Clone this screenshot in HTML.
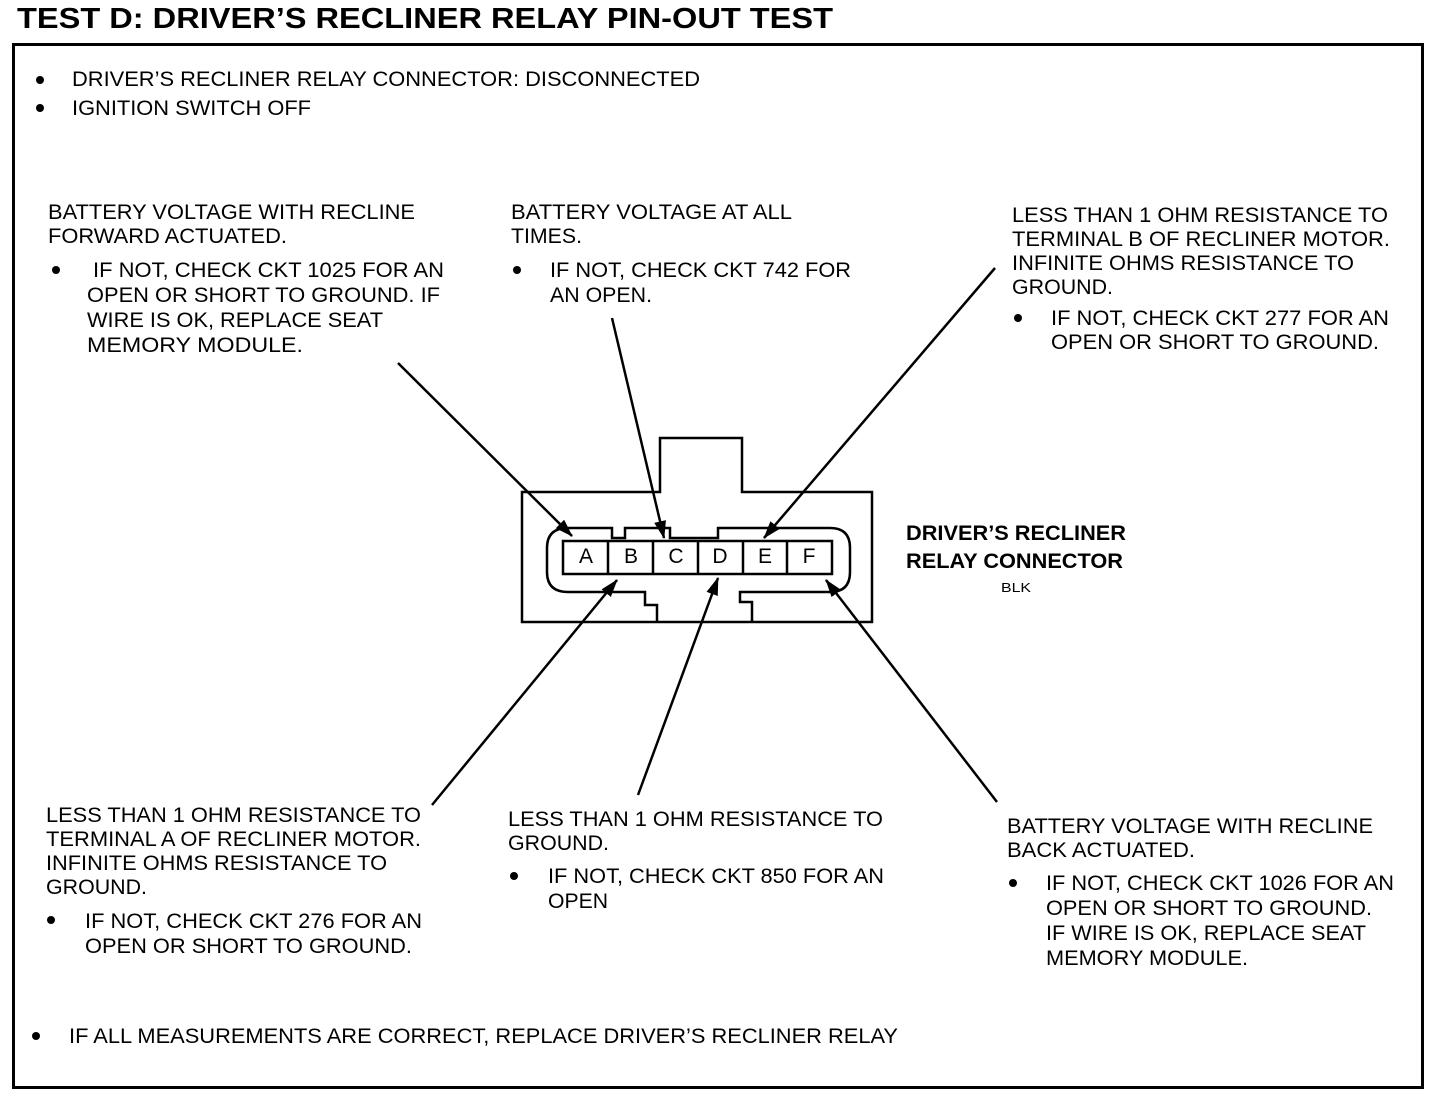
<!DOCTYPE html>
<html><head><meta charset="utf-8"><style>
html,body{margin:0;padding:0;background:#fff;}
svg{display:block}
text{font-family:"Liberation Sans",Arial,sans-serif;font-size:21px;fill:#000}
.b{font-weight:bold}
</style></head><body>
<svg width="1440" height="1096" viewBox="0 0 1440 1096" xmlns="http://www.w3.org/2000/svg">
<defs>
<marker id="a2" markerWidth="18" markerHeight="12" refX="17" refY="6" orient="auto" markerUnits="userSpaceOnUse"><path d="M0,0 L18,6 L0,12 z" fill="#000"/></marker></defs>
<text x="17" y="28" class="b" style="font-size:29px" textLength="816" lengthAdjust="spacingAndGlyphs">TEST D: DRIVER’S RECLINER RELAY PIN-OUT TEST</text>
<rect x="13.5" y="44.5" width="1409" height="1043" fill="none" stroke="#000" stroke-width="3"/>
<g fill="#000">
<circle cx="40" cy="80" r="4"/><circle cx="40" cy="108" r="4"/>
<circle cx="56" cy="270" r="4"/><circle cx="517" cy="270" r="4"/><circle cx="1018" cy="318" r="4"/>
<circle cx="51" cy="920" r="4"/><circle cx="514" cy="876" r="4"/><circle cx="1013" cy="883" r="4"/>
<circle cx="36" cy="1036" r="4"/>
</g>
<g transform="translate(0,-2)">
<text x="72" y="88" textLength="628" lengthAdjust="spacingAndGlyphs">DRIVER’S RECLINER RELAY CONNECTOR: DISCONNECTED</text>
<text x="72" y="117" textLength="239" lengthAdjust="spacingAndGlyphs">IGNITION SWITCH OFF</text>
<text x="48" y="221" textLength="367" lengthAdjust="spacingAndGlyphs">BATTERY VOLTAGE WITH RECLINE</text>
<text x="48" y="245" textLength="239" lengthAdjust="spacingAndGlyphs">FORWARD ACTUATED.</text>
<text x="93" y="279" textLength="351" lengthAdjust="spacingAndGlyphs">IF NOT, CHECK CKT 1025 FOR AN</text>
<text x="87" y="304" textLength="353" lengthAdjust="spacingAndGlyphs">OPEN OR SHORT TO GROUND. IF</text>
<text x="87" y="329" textLength="296" lengthAdjust="spacingAndGlyphs">WIRE IS OK, REPLACE SEAT</text>
<text x="87" y="354" textLength="216" lengthAdjust="spacingAndGlyphs">MEMORY MODULE.</text>
<text x="511" y="221" textLength="281" lengthAdjust="spacingAndGlyphs">BATTERY VOLTAGE AT ALL</text>
<text x="511" y="245" textLength="71" lengthAdjust="spacingAndGlyphs">TIMES.</text>
<text x="550" y="279" textLength="301" lengthAdjust="spacingAndGlyphs">IF NOT, CHECK CKT 742 FOR</text>
<text x="550" y="304" textLength="102" lengthAdjust="spacingAndGlyphs">AN OPEN.</text>
<text x="1012" y="224" textLength="376" lengthAdjust="spacingAndGlyphs">LESS THAN 1 OHM RESISTANCE TO</text>
<text x="1012" y="248" textLength="378" lengthAdjust="spacingAndGlyphs">TERMINAL B OF RECLINER MOTOR.</text>
<text x="1012" y="272" textLength="342" lengthAdjust="spacingAndGlyphs">INFINITE OHMS RESISTANCE TO</text>
<text x="1012" y="296" textLength="101" lengthAdjust="spacingAndGlyphs">GROUND.</text>
<text x="1051" y="327" textLength="338" lengthAdjust="spacingAndGlyphs">IF NOT, CHECK CKT 277 FOR AN</text>
<text x="1051" y="351" textLength="328" lengthAdjust="spacingAndGlyphs">OPEN OR SHORT TO GROUND.</text>
<text x="906" y="542" class="b" textLength="220" lengthAdjust="spacingAndGlyphs">DRIVER’S RECLINER</text>
<text x="906" y="570" class="b" textLength="217" lengthAdjust="spacingAndGlyphs">RELAY CONNECTOR</text>
<text x="1001" y="594" style="font-size:13px" textLength="30" lengthAdjust="spacingAndGlyphs">BLK</text>
<text x="46" y="824" textLength="375" lengthAdjust="spacingAndGlyphs">LESS THAN 1 OHM RESISTANCE TO</text>
<text x="46" y="848" textLength="375" lengthAdjust="spacingAndGlyphs">TERMINAL A OF RECLINER MOTOR.</text>
<text x="46" y="872" textLength="341" lengthAdjust="spacingAndGlyphs">INFINITE OHMS RESISTANCE TO</text>
<text x="46" y="896" textLength="101" lengthAdjust="spacingAndGlyphs">GROUND.</text>
<text x="85" y="930" textLength="337" lengthAdjust="spacingAndGlyphs">IF NOT, CHECK CKT 276 FOR AN</text>
<text x="85" y="955" textLength="327" lengthAdjust="spacingAndGlyphs">OPEN OR SHORT TO GROUND.</text>
<text x="508" y="828" textLength="375" lengthAdjust="spacingAndGlyphs">LESS THAN 1 OHM RESISTANCE TO</text>
<text x="508" y="852" textLength="101" lengthAdjust="spacingAndGlyphs">GROUND.</text>
<text x="548" y="885" textLength="336" lengthAdjust="spacingAndGlyphs">IF NOT, CHECK CKT 850 FOR AN</text>
<text x="548" y="910" textLength="60" lengthAdjust="spacingAndGlyphs">OPEN</text>
<text x="1007" y="835" textLength="366" lengthAdjust="spacingAndGlyphs">BATTERY VOLTAGE WITH RECLINE</text>
<text x="1007" y="859" textLength="188" lengthAdjust="spacingAndGlyphs">BACK ACTUATED.</text>
<text x="1046" y="892" textLength="348" lengthAdjust="spacingAndGlyphs">IF NOT, CHECK CKT 1026 FOR AN</text>
<text x="1046" y="917" textLength="326" lengthAdjust="spacingAndGlyphs">OPEN OR SHORT TO GROUND.</text>
<text x="1046" y="942" textLength="320" lengthAdjust="spacingAndGlyphs">IF WIRE IS OK, REPLACE SEAT</text>
<text x="1046" y="967" textLength="202" lengthAdjust="spacingAndGlyphs">MEMORY MODULE.</text>
<text x="69" y="1045" textLength="829" lengthAdjust="spacingAndGlyphs">IF ALL MEASUREMENTS ARE CORRECT, REPLACE DRIVER’S RECLINER RELAY</text>
</g>
<!-- connector -->
<g fill="none" stroke="#000" stroke-width="2.5">
<path d="M522,622 L522,492 L660,492 L660,438 L742,438 L742,492 L872,492 L872,622 Z"/>
<path d="M752,622 L752,602 L740,602 L740,592 L830,592"/>
<path d="M657,622 L657,605 L645,605 L645,592 L568,592 Q547,592 547,572 L547,548 Q547,528 568,528 L612,528 L612,538 L625,538 L625,528 L670,528 L670,538 L718,538 L718,528 L780,528"/>
<path d="M780,528 L830,528 Q850,528 850,548 L850,572 Q850,592 830,592"/>
<rect x="563" y="541" width="269" height="33"/>
<path d="M608,541V574M653,541V574M698,541V574M743,541V574M787,541V574"/>
</g>
<g style="font-size:15px" text-anchor="middle">
<text x="586" y="563">A</text><text x="631" y="563">B</text><text x="676" y="563">C</text><text x="720" y="563">D</text><text x="765" y="563">E</text><text x="809" y="563">F</text>
</g>
<g stroke="#000" stroke-width="2.5" marker-end="url(#a2)">
<line x1="398" y1="363" x2="572" y2="536"/>
<line x1="612" y1="318" x2="664" y2="538"/>
<line x1="995" y1="268" x2="764" y2="538"/>
<line x1="432" y1="805" x2="617" y2="580"/>
<line x1="638" y1="795" x2="718" y2="578"/>
<line x1="997" y1="802" x2="826" y2="580"/>
</g>
</svg>
</body></html>
